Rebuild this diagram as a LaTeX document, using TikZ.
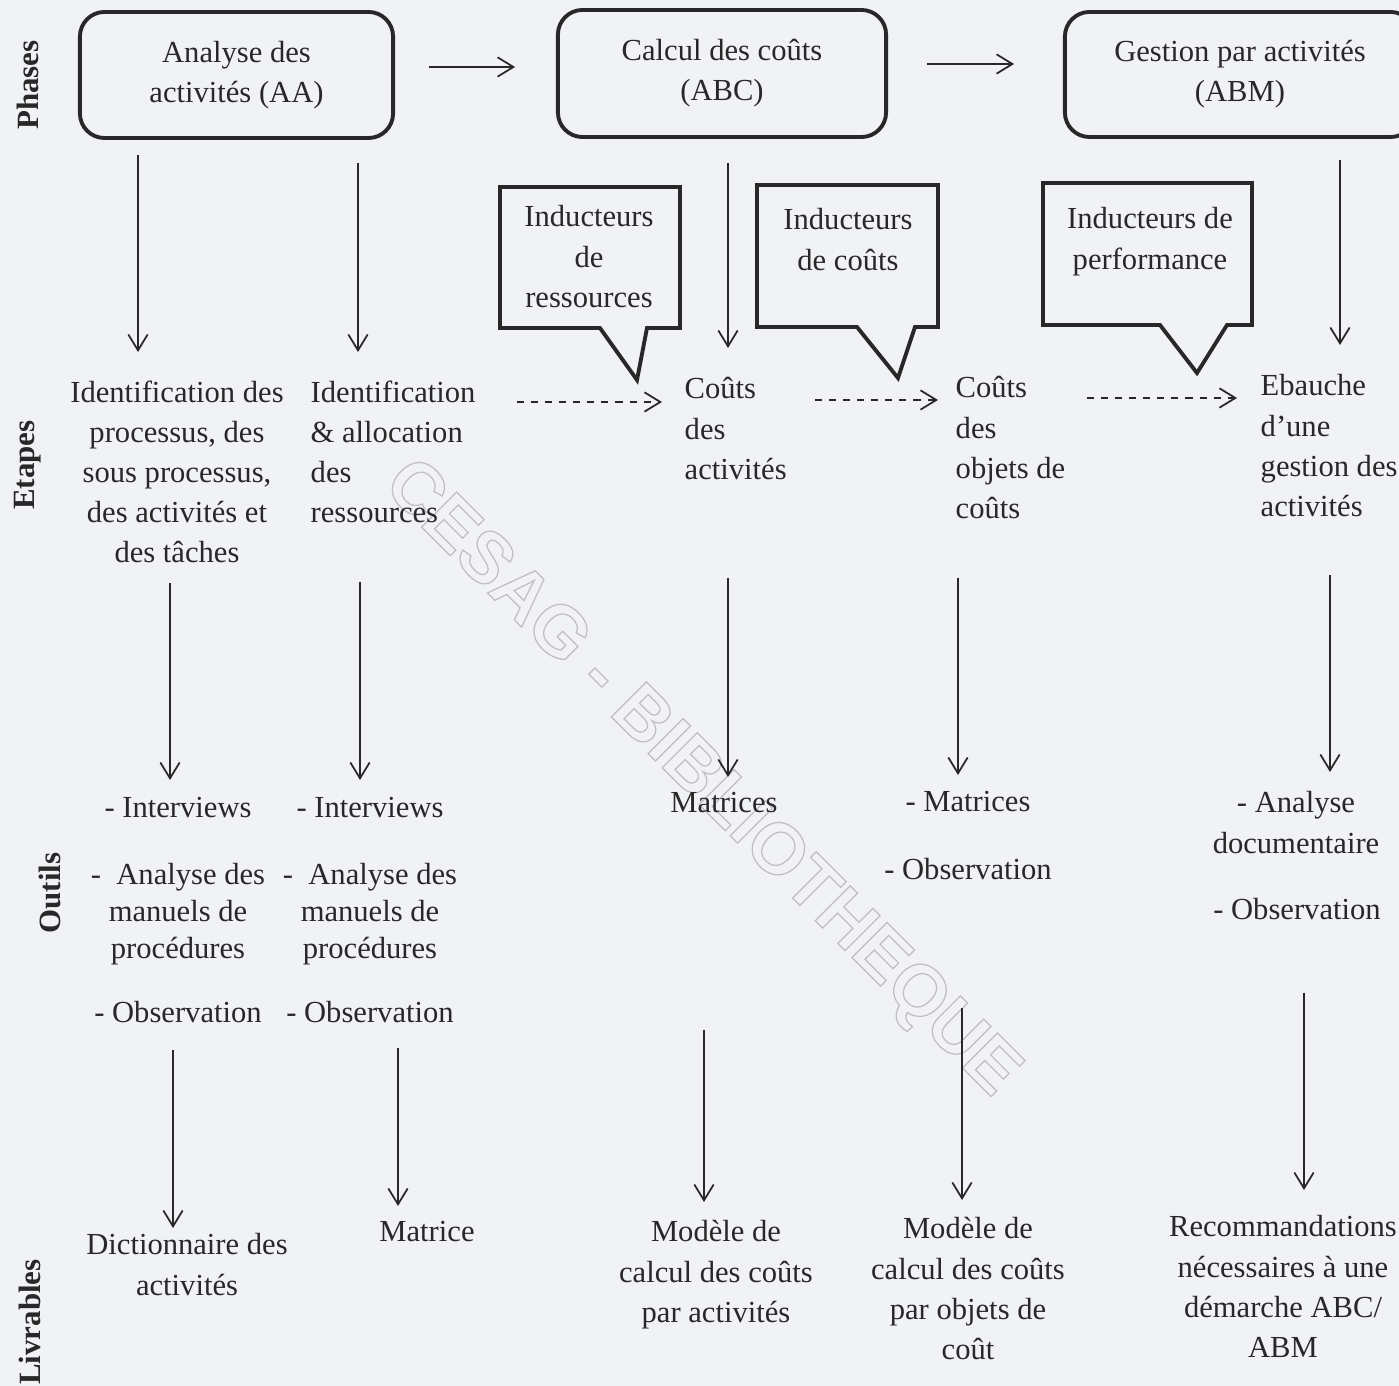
\documentclass[tikz,border=0pt]{standalone}
\usepackage{fontspec}
\setmainfont{Liberation Serif}
\newfontfamily\wmfont{Liberation Sans}
\usetikzlibrary{arrows.meta}
\definecolor{paper}{RGB}{240,242,246}
\definecolor{ink}{RGB}{40,40,40}
\begin{document}
\begin{tikzpicture}[x=0.01cm,y=-0.01cm,
  txt/.style={font=\fontsize{8.7pt}{11.4pt}\selectfont, text=ink, inner sep=0pt, align=center, anchor=north},
  ltxt/.style={txt, align=left, anchor=north west},
  tight/.style={font=\fontsize{8.7pt}{10.5pt}\selectfont},
  side/.style={font=\fontsize{8.8pt}{11pt}\selectfont\bfseries, text=ink, rotate=90, inner sep=0pt},
  phasebox/.style={draw=ink, line width=1.1pt, rounded corners=7pt, inner sep=0pt, font=\fontsize{8.7pt}{11.4pt}\selectfont, text=ink, align=center},
  callout/.style={draw=ink, line width=1.1pt, line join=miter},
  arr/.style={draw=ink, line width=0.5pt, -{Straight Barb[length=4.5pt,width=5.5pt]}},
  darr/.style={arr, dash pattern=on 2pt off 2pt}
]
\fill[paper] (0,0) rectangle (1399,1386);
\useasboundingbox (0,0) rectangle (1399,1386);

% watermark (outlined letters)
\node[font=\wmfont\bfseries\fontsize{20.5pt}{20.5pt}\selectfont, text=gray!50, rotate=-45, inner sep=0pt] (wm) at (700,780) {\special{pdf:literal direct 1 Tr 0.35 w}CESAG - BIBLIOTHEQUE\special{pdf:literal direct 0 Tr}};

% side labels
\node[side] (lphases) at (28,85) {Phases};
\node[side] (letapes) at (28,465) {Etapes};
\node[side] (loutils) at (50,893) {Outils};
\node[side] (llivr) at (30,1322) {Livrables};

% phases
\node[phasebox, minimum width=3.13cm, minimum height=1.26cm] (AA) at (236.5,75) {Analyse des\\activités (AA)};
\node[phasebox, minimum width=3.28cm, minimum height=1.27cm] (ABC) at (722,73.5) {Calcul des coûts\\(ABC)};
\node[phasebox, minimum width=3.5cm, minimum height=1.25cm] (ABM) at (1240,74.5) {Gestion par activités\\(ABM)};
\draw[arr] ([xshift=0.34cm,yshift=0.08cm]AA.east) -- ++(0.86cm,0);
\draw[arr] ([xshift=0.39cm,yshift=0.095cm]ABC.east) -- ++(0.87cm,0);

% callouts
\draw[callout] (500,187) -- (680,187) -- (680,328) -- (647,328) -- (637,380) -- (600,328) -- (500,328) -- cycle;
\draw[callout] (757,185) -- (938,185) -- (938,327) -- (915,327) -- (898,378) -- (857,327) -- (757,327) -- cycle;
\draw[callout] (1043,183) -- (1252,183) -- (1252,325) -- (1227,325) -- (1197,373) -- (1160,325) -- (1043,325) -- cycle;
\node[txt] (C1) at (589,205) {Inducteurs\\de\\ressources};
\node[txt] (C2) at (848,208) {Inducteurs\\de coûts};
\node[txt] (C3) at (1150,207) {Inducteurs de\\performance};

% etapes
\node[txt] (E1) at (177,380) {Identification des\\processus, des\\sous processus,\\des activités et\\des tâches};
\node[ltxt] (E2) at (310,380) {Identification\\\& allocation\\des\\ressources};
\node[ltxt] (E3) at (684,377) {Coûts\\des\\activités};
\node[ltxt] (E4) at (955,376) {Coûts\\des\\objets de\\coûts};
\node[ltxt] (E5) at (1260,374) {Ebauche\\d’une\\gestion des\\activités};

% dashed arrows
\coordinate (d1s) at (517,402); \coordinate (d1t) at (662,402);
\coordinate (d2s) at (815,400); \coordinate (d2t) at (938,400);
\coordinate (d3s) at (1087,398); \coordinate (d3t) at (1237,398);
\draw[darr] (d1s) -- (d1t);
\draw[darr] (d2s) -- (d2t);
\draw[darr] (d3s) -- (d3t);

% outils
\node[txt] (O1a) at (178,797) {- Interviews};
\node[txt, tight] (O1b) at (178,863) {-\ \ Analyse des\\manuels de\\procédures};
\node[txt] (O1c) at (178,1001) {- Observation};
\node[txt] (O2a) at (370,797) {- Interviews};
\node[txt, tight] (O2b) at (370,863) {-\ \ Analyse des\\manuels de\\procédures};
\node[txt] (O2c) at (370,1001) {- Observation};
\node[txt] (O3) at (724,792) {Matrices};
\node[txt] (O4a) at (968,791) {- Matrices};
\node[txt] (O4b) at (968,858) {- Observation};
\node[txt] (O5a) at (1296,791) {- Analyse\\documentaire};
\node[txt] (O5b) at (1297,898) {- Observation};

% livrables
\node[txt] (L1) at (187,1233) {Dictionnaire des\\activités};
\node[txt] (L2) at (427,1221) {Matrice};
\node[txt] (L3) at (716,1220) {Modèle de\\calcul des coûts\\par activités};
\node[txt] (L4) at (968,1217) {Modèle de\\calcul des coûts\\par objets de\\coût};
\node[txt] (L5) at (1283,1215) {Recommandations\\nécessaires à une\\démarche ABC/\\ABM};

% vertical arrows
\foreach \n/\x/\a/\b in {p1/138/155/352, p2/358/163/352, p3/728/163/348, p4/1340/160/345,
  e1/170/583/780, e2/360/582/780, e3/728/578/777, e4/958/578/775, e5/1330/575/772,
  o1/173/1050/1228, o2/398/1048/1206, o3/704/1030/1202, o4/962/1008/1200, o5/1304/993/1190} {
  \coordinate (s\n) at (\x,\a);
  \coordinate (t\n) at (\x,\b);
  \draw[arr] (s\n) -- (t\n);
}
\end{tikzpicture}
\end{document}
